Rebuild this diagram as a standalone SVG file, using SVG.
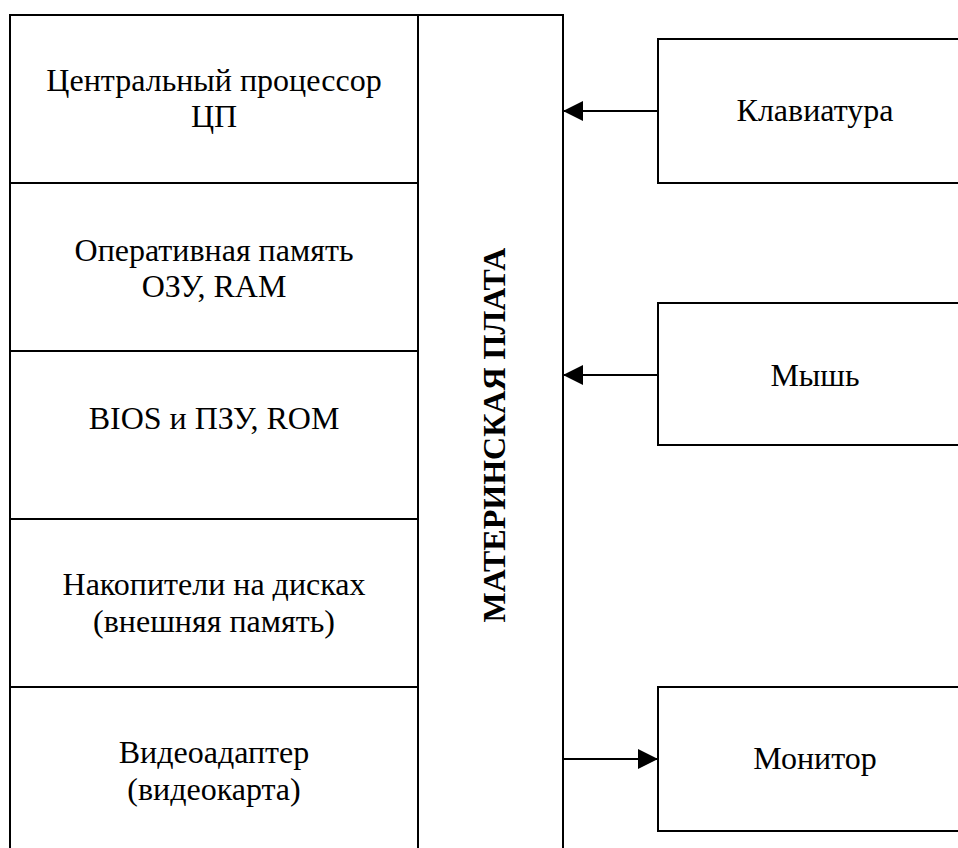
<svg xmlns="http://www.w3.org/2000/svg" width="958" height="848" viewBox="0 0 958 848">
<defs>
<style>
.box{fill:#fff;stroke:#000;stroke-width:2}
.t{font-family:'Liberation Serif','Times New Roman',serif;font-size:32px;fill:#000;text-anchor:middle}
.b{font-weight:bold}
.c{stroke:#000;stroke-width:2;fill:none}
</style>
<marker id="ah" markerWidth="20" markerHeight="20" refX="20" refY="10" orient="auto" markerUnits="userSpaceOnUse">
<path d="M0,0 L20,10 L0,20 Z" fill="#000"/>
</marker>
</defs>
<rect width="958" height="848" fill="#fff"/>
<g id="cpu"><rect class="box" x="10" y="15" width="408" height="168"/>
<text class="t" x="214" y="91">Центральный процессор</text><text class="t" x="214" y="127">ЦП</text></g>
<g id="ram"><rect class="box" x="10" y="183" width="408" height="168"/>
<text class="t" x="214" y="261">Оперативная память</text><text class="t" x="214" y="297">ОЗУ, RAM</text></g>
<g id="bios"><rect class="box" x="10" y="351" width="408" height="168"/>
<text class="t" x="214" y="429">BIOS и ПЗУ, ROM</text></g>
<g id="disk"><rect class="box" x="10" y="519" width="408" height="168"/>
<text class="t" x="214" y="595">Накопители на дисках</text><text class="t" x="214" y="632">(внешняя память)</text></g>
<g id="video"><rect class="box" x="10" y="687" width="408" height="175"/>
<text class="t" x="214" y="763">Видеоадаптер</text><text class="t" x="214" y="800">(видеокарта)</text></g>
<g id="mb"><rect class="box" x="418" y="15" width="145" height="847"/>
<text class="t b" transform="translate(505,435) rotate(-90)">МАТЕРИНСКАЯ ПЛАТА</text></g>
<g id="kbd"><rect class="box" x="658" y="39" width="320" height="144"/>
<text class="t" x="815" y="121">Клавиатура</text></g>
<g id="mouse"><rect class="box" x="658" y="303" width="320" height="142"/>
<text class="t" x="815" y="386">Мышь</text></g>
<g id="mon"><rect class="box" x="658" y="687" width="320" height="144"/>
<text class="t" x="815" y="769">Монитор</text></g>
<g id="connectors">
<line class="c" x1="658" y1="111" x2="563" y2="111" marker-end="url(#ah)"/>
<line class="c" x1="658" y1="375" x2="563" y2="375" marker-end="url(#ah)"/>
<line class="c" x1="563" y1="759" x2="658" y2="759" marker-end="url(#ah)"/>
</g>
</svg>
